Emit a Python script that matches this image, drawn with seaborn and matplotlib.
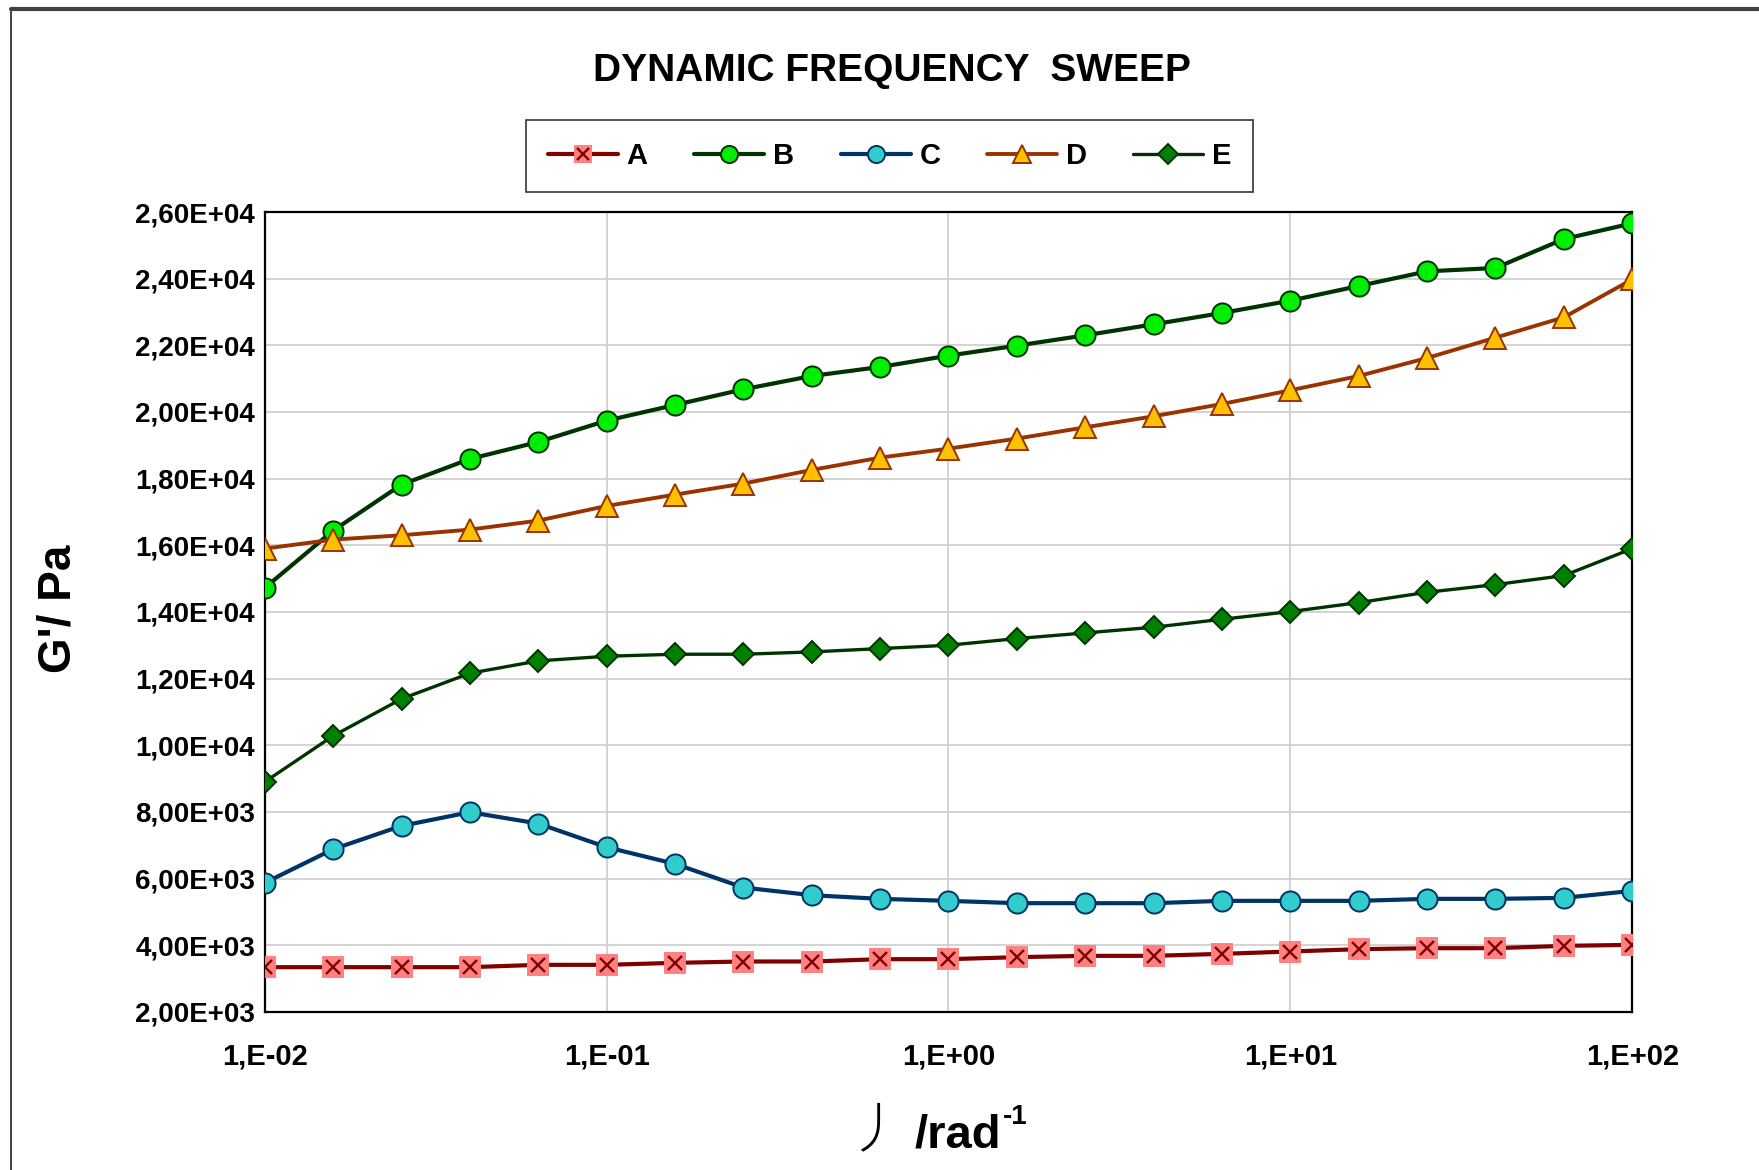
import numpy as np
import pandas as pd
import matplotlib
matplotlib.use("Agg")
import matplotlib.pyplot as plt
import seaborn as sns
from matplotlib.ticker import FixedLocator, MultipleLocator, LogLocator, NullFormatter
from matplotlib.legend_handler import HandlerTuple
from matplotlib.patches import Rectangle

# ---- data ----
freq = [1.00e-2, 1.585e-2, 2.512e-2, 3.981e-2, 6.310e-2,
        1.00e-1, 1.585e-1, 2.512e-1, 3.981e-1, 6.310e-1,
        1.00e0, 1.585e0, 2.512e0, 3.981e0, 6.310e0,
        1.00e1, 1.585e1, 2.512e1, 3.981e1, 6.310e1, 1.00e2]

series_A = [3340, 3340, 3340, 3340, 3410, 3410, 3470, 3510, 3510, 3580, 3580,
            3640, 3680, 3680, 3740, 3810, 3880, 3910, 3910, 3980, 4010]
series_B = [14720, 16440, 17820, 18590, 19100, 19740, 20210, 20680, 21080, 21350, 21690,
            21990, 22300, 22630, 22970, 23340, 23780, 24220, 24320, 25190, 25660]
series_C = [5870, 6880, 7580, 7990, 7650, 6940, 6440, 5730, 5500, 5390, 5330,
            5260, 5260, 5260, 5330, 5330, 5330, 5390, 5390, 5420, 5630]
series_D = [15900, 16170, 16300, 16470, 16740, 17180, 17520, 17850, 18260, 18630, 18900,
            19200, 19540, 19870, 20240, 20650, 21080, 21620, 22230, 22840, 23980]
series_E = [8900, 10280, 11390, 12160, 12530, 12670, 12730, 12730, 12800, 12900, 13000,
            13200, 13370, 13540, 13780, 14010, 14280, 14590, 14820, 15090, 15900]

names = ["A", "B", "C", "D", "E"]
y_ticks = [2000, 4000, 6000, 8000, 10000, 12000, 14000, 16000, 18000, 20000, 22000, 24000, 26000]
x_ticks = [1e-2, 1e-1, 1e0, 1e1, 1e2]
x_tick_labels = ["1,E-02", "1,E-01", "1,E+00", "1,E+01", "1,E+02"]
y_tick_labels = ["2,00E+03", "4,00E+03", "6,00E+03", "8,00E+03", "1,00E+04", "1,20E+04", "1,40E+04",
                 "1,60E+04", "1,80E+04", "2,00E+04", "2,20E+04", "2,40E+04", "2,60E+04"]

df = pd.DataFrame({
    "freq": freq * 5,
    "G": series_A + series_B + series_C + series_D + series_E,
    "sample": sum([[n] * len(freq) for n in names], []),
})

# ---- style ----
sns.set_theme(style="white")
plt.rcParams["font.family"] = ["Liberation Sans", "DejaVu Sans"]
plt.rcParams["font.weight"] = "bold"
plt.rcParams["text.color"] = "black"
plt.rcParams["axes.labelcolor"] = "black"
plt.rcParams["xtick.color"] = "black"
plt.rcParams["ytick.color"] = "black"

W, H = 1759, 1170
fig = plt.figure(figsize=(W / 100, H / 100), dpi=100)
fig.patch.set_facecolor("white")

# figure border (left + top visible)
fig.add_artist(Rectangle((10 / 1568, -0.05), 1.2, 1 - 8 / 1043 + 0.05, transform=fig.transFigure,
                         fill=False, edgecolor="#222222", linewidth=1.2))
fig.add_artist(plt.Line2D([10 / 1568, 1.0], [1 - 8 / 1043, 1 - 8 / 1043], transform=fig.transFigure,
                          color="#404040", linewidth=3))

ax = fig.add_axes([236 / 1568, 1 - 902 / 1043, (1455 - 236) / 1568, (902 - 189) / 1043])
ax.set_facecolor("white")

styles = {
    "A": dict(color="#800000", marker="s", mfc="#FF8080", mec="#FF8080", ms=14, lw=3.0),
    "B": dict(color="#003300", marker="o", mfc="#00EE00", mec="#003300", ms=14.5, lw=3.0),
    "C": dict(color="#003366", marker="o", mfc="#33CCCC", mec="#003366", ms=14.5, lw=3.0),
    "D": dict(color="#993300", marker="^", mfc="#FFC000", mec="#993300", ms=16, lw=2.8),
    "E": dict(color="#003300", marker="D", mfc="#008000", mec="#003300", ms=11.5, lw=2.4),
}

handles = {}
for n in names:
    st = styles[n]
    sub = df[df["sample"] == n]
    sns.lineplot(data=sub, x="freq", y="G", ax=ax, color=st["color"], linewidth=st["lw"],
                 marker=st["marker"], markersize=st["ms"], markerfacecolor=st["mfc"],
                 markeredgecolor=st["mec"], markeredgewidth=1.4, legend=False, zorder=3)
    handles[n] = ax.lines[-1]

subA = df[df["sample"] == "A"]
sns.lineplot(data=subA, x="freq", y="G", ax=ax, linestyle="", marker="x", markersize=10,
             color="#800000", markeredgecolor="#800000", markeredgewidth=1.7, legend=False, zorder=4)
xA = ax.lines[-1]

ax.set_xscale("log")
ax.set_xlim(1e-2, 1e2)
ax.set_ylim(2000, 26000)

ax.xaxis.set_major_locator(FixedLocator(x_ticks))
ax.set_xticklabels(x_tick_labels)
ax.xaxis.set_minor_locator(LogLocator(base=10, subs=np.arange(2, 10)))
ax.xaxis.set_minor_formatter(NullFormatter())
ax.yaxis.set_major_locator(FixedLocator(y_ticks))
ax.set_yticklabels(y_tick_labels)
ax.yaxis.set_minor_locator(MultipleLocator(500))

ax.tick_params(axis="both", which="both", direction="in", top=False, right=False, colors="black")
ax.tick_params(axis="y", which="major", length=8, width=1.3, pad=7, labelsize=20)
ax.tick_params(axis="x", which="major", length=8, width=1.3, pad=22, labelsize=21)
ax.tick_params(axis="y", which="minor", length=5, width=1.0)
ax.tick_params(axis="x", which="minor", length=7, width=1.0)
for lab in ax.get_xticklabels() + ax.get_yticklabels():
    lab.set_fontweight("bold")

ax.grid(True, which="major", color="#D0D0D0", linewidth=1.3)
ax.set_axisbelow(True)
for sp in ax.spines.values():
    sp.set_visible(True)
    sp.set_color("black")
    sp.set_linewidth(1.6)

ax.set_xlabel("")
ax.set_ylabel("")

# y label
fig.text(52 / 1568, 1 - 543 / 1043, "G'/ Pa", ha="center", va="center", rotation=90,
         fontsize=33, fontweight="bold")

# title
fig.text(795 / 1568, 1 - 63 / 1043, "DYNAMIC FREQUENCY  SWEEP", ha="center", va="center",
         fontsize=28, fontweight="bold")

# x label pieces
fig.text(780 / 1568, 1 - 1008 / 1043, "丿", ha="center", va="center", fontsize=40,
         family=["Noto Sans CJK JP", "DejaVu Sans"], fontweight="light")
fig.text(815 / 1568, 1 - 1012 / 1043, "/rad", ha="left", va="center", fontsize=34, fontweight="bold")
fig.text(894 / 1568, 1 - 996 / 1043, "-1", ha="left", va="center", fontsize=20, fontweight="bold")

# legend
leg_handles = [(handles["A"], xA), handles["B"], handles["C"], handles["D"], handles["E"]]
leg = fig.legend(leg_handles, names, loc="center", bbox_to_anchor=(793 / 1568, 1 - 139 / 1043),
                 ncol=5, frameon=True, fancybox=False, edgecolor="black",
                 handlelength=2.4, handletextpad=0.3, columnspacing=1.6, borderpad=0.75,
                 markerscale=0.85, handler_map={tuple: HandlerTuple(ndivide=1)},
                 prop={"weight": "bold", "size": 21})
leg.get_frame().set_linewidth(1.2)

fig.savefig("out.png", dpi=100, facecolor="white")
